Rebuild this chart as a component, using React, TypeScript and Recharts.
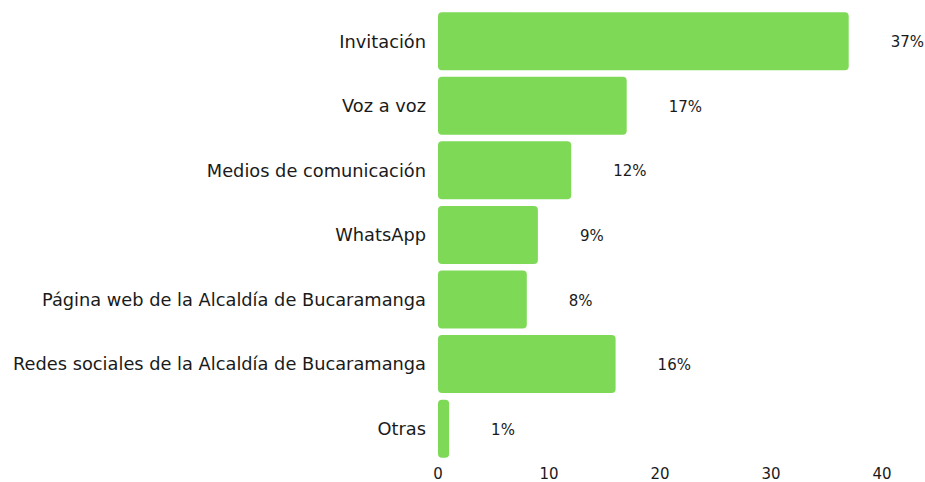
import React from "react";
import { BarChart, Bar, XAxis, YAxis, LabelList } from "recharts";

const categories = [
  "Invitación",
  "Voz a voz",
  "Medios de comunicación",
  "WhatsApp",
  "Página web de la Alcaldía de Bucaramanga",
  "Redes sociales de la Alcaldía de Bucaramanga",
  "Otras",
];
const values = [37, 17, 12, 9, 8, 16, 1];
const xTicks = [0, 10, 20, 30, 40];

const data = categories.map((name, i) => ({ name, value: values[i] }));

const FONT = "'DejaVu Sans', sans-serif";

const PctLabel = (props: any) => {
  const { x, y, width, height, value } = props;
  return (
    <text
      x={x + width + 42}
      y={y + height / 2}
      dy="0.4em"
      textAnchor="start"
      fontFamily={FONT}
      fontSize={15}
      fill="#1a1a1a"
    >
      {value}%
    </text>
  );
};

export default function App() {
  return (
    <div style={{ position: "absolute", left: 0, top: 0 }}>
      <BarChart
        width={925}
        height={482}
        data={data}
        layout="vertical"
        margin={{ top: 9, right: 43, bottom: 0, left: 0 }}
        barCategoryGap="5%"
      >
        <XAxis
          type="number"
          domain={[0, 40]}
          ticks={xTicks}
          axisLine={false}
          tickLine={false}
          height={21}
          tickMargin={1}
          tick={{ fontFamily: FONT, fontSize: 15, fill: "#1a1a1a" }}
        />
        <YAxis
          type="category"
          dataKey="name"
          width={438}
          axisLine={false}
          tickLine={false}
          tickMargin={6}
          interval={0}
          tick={{ fontFamily: FONT, fontSize: 17.8, fill: "#1a1a1a" }}
        />
        <Bar dataKey="value" fill="#7ED957" radius={4} isAnimationActive={false}>
          <LabelList dataKey="value" content={PctLabel} />
        </Bar>
      </BarChart>
    </div>
  );
}
